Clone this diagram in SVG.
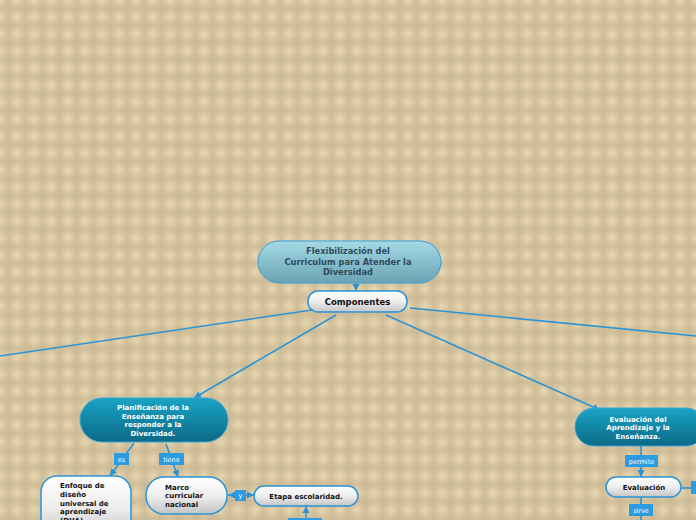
<svg xmlns="http://www.w3.org/2000/svg" width="696" height="520" viewBox="0 0 696 520">
<defs>
<linearGradient id="gv" x1="0" y1="0" x2="1" y2="0">
<stop offset="0" stop-color="#c8b793" stop-opacity="0"/>
<stop offset="0.5" stop-color="#c8b793" stop-opacity="0.75"/>
<stop offset="1" stop-color="#c8b793" stop-opacity="0"/>
</linearGradient>
<linearGradient id="gh" x1="0" y1="0" x2="0" y2="1">
<stop offset="0" stop-color="#c8b793" stop-opacity="0"/>
<stop offset="0.5" stop-color="#c8b793" stop-opacity="0.75"/>
<stop offset="1" stop-color="#c8b793" stop-opacity="0"/>
</linearGradient>
<pattern id="plaid" width="17" height="17" patternUnits="userSpaceOnUse">
<rect width="17" height="17" fill="#e9d8b0"/>
<rect width="17" height="17" fill="url(#gv)"/>
<rect width="17" height="17" fill="url(#gh)"/>
</pattern>
<linearGradient id="groot" x1="0" y1="0" x2="0" y2="1">
<stop offset="0" stop-color="#a6d9e6"/>
<stop offset="1" stop-color="#6aa3b3"/>
</linearGradient>
<linearGradient id="gteal" x1="0" y1="0" x2="0" y2="1">
<stop offset="0" stop-color="#1aa3c6"/>
<stop offset="1" stop-color="#0b6a85"/>
</linearGradient>
<linearGradient id="gwhite" x1="0" y1="0" x2="0" y2="1">
<stop offset="0" stop-color="#ffffff"/>
<stop offset="0.5" stop-color="#eeeeee"/>
<stop offset="1" stop-color="#c4c4c4"/>
</linearGradient>
<marker id="arr" markerWidth="8" markerHeight="8" refX="7" refY="4" orient="auto" markerUnits="userSpaceOnUse">
<path d="M0,0.5 L7,4 L0,7.5 Z" fill="#2b94d6"/>
</marker>
</defs>
<style>
.conn{stroke:#2b94d6;stroke-width:1.6;fill:none}
.t{font-family:"DejaVu Sans",Verdana,sans-serif;font-weight:bold}
.root{fill:url(#groot);stroke:#3a9fd8;stroke-width:1}
.teal{fill:url(#gteal);stroke:#3aa6d8;stroke-width:1}
.white{fill:url(#gwhite);stroke:#2b94d6;stroke-width:1.5}
.lbl{fill:#2d9be0}
.lt{font-family:"DejaVu Sans",Verdana,sans-serif;font-size:6.5px;fill:#ffffff}
</style>
<rect width="696" height="520" fill="url(#plaid)"/>
<g id="connectors">
<line class="conn" x1="356" y1="283" x2="356" y2="291" marker-end="url(#arr)"/>
<line class="conn" x1="312" y1="310" x2="0" y2="356"/>
<line class="conn" x1="336" y1="315" x2="194" y2="398" marker-end="url(#arr)"/>
<line class="conn" x1="386" y1="315" x2="600" y2="410" marker-end="url(#arr)"/>
<line class="conn" x1="410" y1="308" x2="696" y2="336"/>
<line class="conn" x1="134" y1="443" x2="110" y2="476" marker-end="url(#arr)"/>
<line class="conn" x1="166" y1="444" x2="178" y2="477" marker-end="url(#arr)"/>
<line class="conn" x1="236" y1="495" x2="228" y2="495" marker-end="url(#arr)"/>
<line class="conn" x1="244" y1="495" x2="254" y2="495" marker-end="url(#arr)"/>
<line class="conn" x1="306" y1="520" x2="306" y2="506" marker-end="url(#arr)"/>
<line class="conn" x1="641" y1="446" x2="641" y2="477" marker-end="url(#arr)"/>
<line class="conn" x1="681" y1="488" x2="696" y2="488"/>
<line class="conn" x1="641" y1="497" x2="641" y2="520"/>
</g>
<g id="lbl-es"><rect class="lbl" x="114" y="453" width="15" height="12"/><text class="lt" x="121.5" y="461.5" text-anchor="middle">es</text></g>
<g id="lbl-tiene"><rect class="lbl" x="159" y="453" width="25" height="12"/><text class="lt" x="171.5" y="461.5" text-anchor="middle">tiene</text></g>
<g id="lbl-y"><rect class="lbl" x="235" y="490" width="11" height="11"/><text class="lt" x="240.5" y="497.5" text-anchor="middle">y</text></g>
<g id="lbl-bottom"><rect class="lbl" x="288" y="518" width="34" height="10"/></g>
<g id="lbl-permite"><rect class="lbl" x="625" y="455" width="33" height="12"/><text class="lt" x="641.5" y="463.5" text-anchor="middle">permite</text></g>
<g id="lbl-sirve"><rect class="lbl" x="629" y="504" width="24" height="12"/><text class="lt" x="641" y="512.5" text-anchor="middle">sirve</text></g>
<g id="lbl-right"><rect class="lbl" x="691" y="481" width="10" height="13"/></g>
<g id="root">
<rect class="root" x="258" y="241" width="183" height="42" rx="21"/>
<text class="t" font-size="8.3" fill="#2f4b5c" text-anchor="middle"><tspan x="348" y="254">Flexibilización del</tspan><tspan x="348" y="264.5">Curriculum para Atender la</tspan><tspan x="348" y="275">Diversidad</tspan></text>
</g>
<g id="componentes">
<rect class="white" x="308" y="291" width="99" height="21" rx="10"/>
<text class="t" font-size="8.5" fill="#111" x="357.5" y="304.5" text-anchor="middle">Componentes</text>
</g>
<g id="planificacion">
<rect class="teal" x="80" y="398" width="148" height="44" rx="22"/>
<text class="t" font-size="7" fill="#fff" text-anchor="middle"><tspan x="153" y="410">Planificación de la</tspan><tspan x="153" y="419">Enseñanza para</tspan><tspan x="153" y="427">responder a la</tspan><tspan x="153" y="436">Diversidad.</tspan></text>
</g>
<g id="enfoque">
<rect class="white" x="41" y="476" width="90" height="62" rx="16"/>
<text class="t" font-size="7" fill="#111"><tspan x="60" y="488">Enfoque de</tspan><tspan x="60" y="497">diseño</tspan><tspan x="60" y="506">universal de</tspan><tspan x="60" y="514">aprendizaje</tspan><tspan x="60" y="523">(DUA)</tspan></text>
</g>
<g id="marco">
<rect class="white" x="146" y="477" width="81" height="37" rx="18"/>
<text class="t" font-size="7" fill="#111"><tspan x="165" y="490">Marco</tspan><tspan x="165" y="498">curricular</tspan><tspan x="165" y="507">nacional</tspan></text>
</g>
<g id="etapa">
<rect class="white" x="254" y="486" width="104" height="20" rx="10"/>
<text class="t" font-size="7" fill="#111" x="306" y="498.5" text-anchor="middle">Etapa escolaridad.</text>
</g>
<g id="evaluacion-aprendizaje">
<rect class="teal" x="575" y="408" width="130" height="38" rx="19"/>
<text class="t" font-size="7" fill="#fff" text-anchor="middle"><tspan x="638" y="422">Evaluación del</tspan><tspan x="638" y="430">Aprendizaje y la</tspan><tspan x="638" y="439">Enseñanza.</tspan></text>
</g>
<g id="evaluacion">
<rect class="white" x="606" y="477" width="75" height="20" rx="10"/>
<text class="t" font-size="7" fill="#111" x="644" y="490" text-anchor="middle">Evaluación</text>
</g>
</svg>
